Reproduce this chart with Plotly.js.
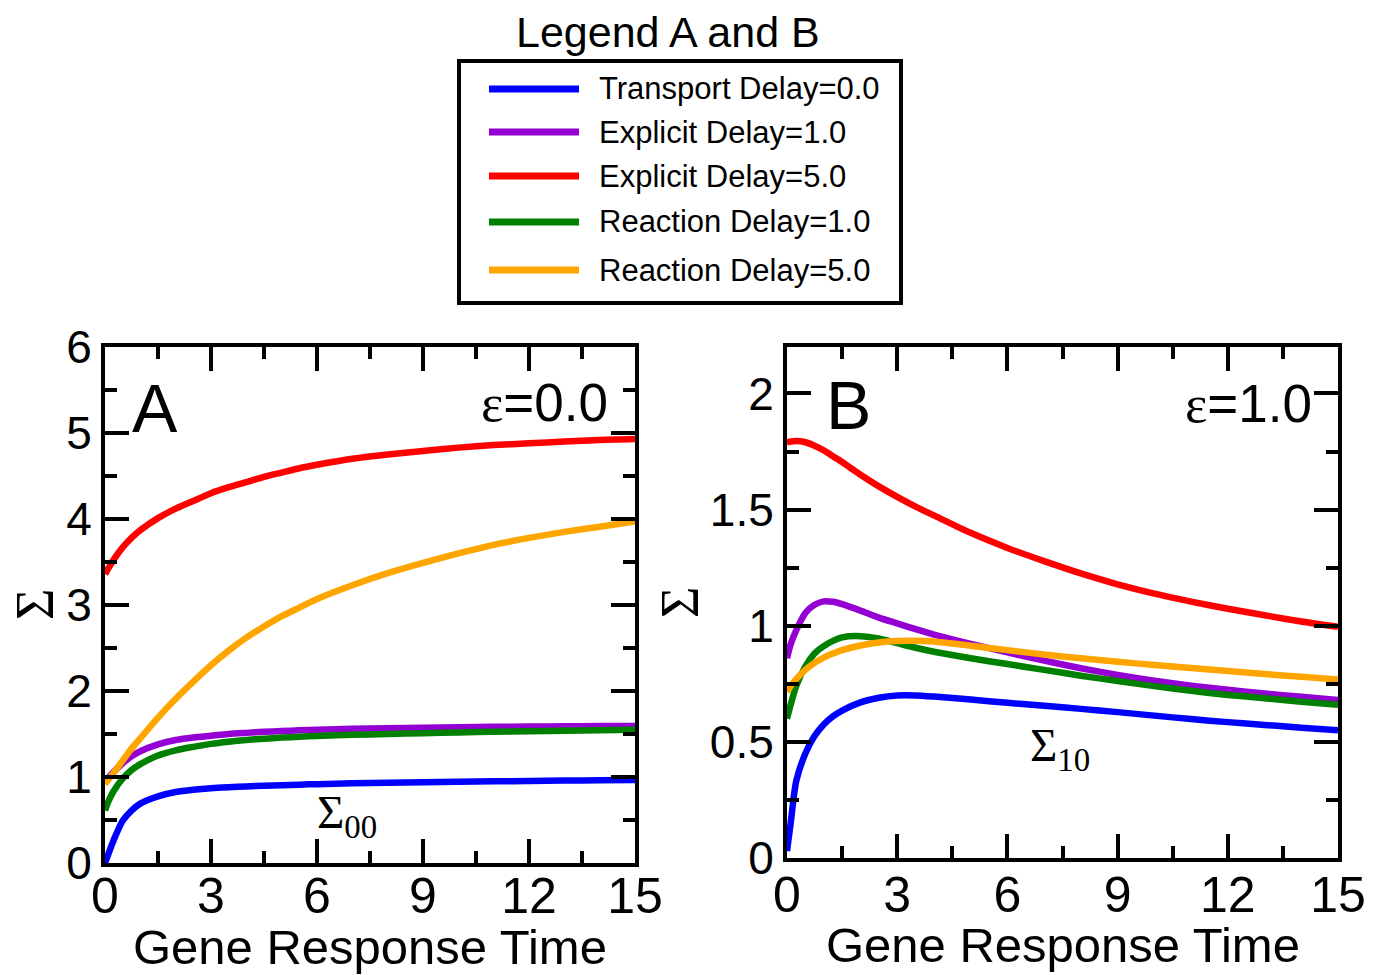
<!DOCTYPE html>
<html>
<head>
<meta charset="utf-8">
<script src="https://cdn.plot.ly/plotly-3.0.1.min.js"></script>
<style>html,body{margin:0;padding:0;background:#fff;}#chart{width:1375px;height:975px;}</style>
</head>
<body>
<div id="chart"></div>
<script>
// ---------- data ----------
const seriesNames = ["Transport Delay=0.0", "Explicit Delay=1.0", "Explicit Delay=5.0", "Reaction Delay=1.0", "Reaction Delay=5.0"];
const seriesColors = ["#0000ff", "#9400d3", "#ff0000", "#008000", "#ffa500"];

// Panel A (epsilon = 0.0)
const xA = [0, 0.1, 0.25, 0.5, 0.75, 1, 1.5, 2, 2.5, 3, 3.5, 4, 4.5, 5, 5.5, 6, 7, 8, 9, 10, 11, 12, 13, 14, 15];
const transportA = [0.0, 0.11, 0.27, 0.49, 0.61, 0.69, 0.775, 0.825, 0.852, 0.87, 0.881, 0.89, 0.898, 0.905, 0.911, 0.917, 0.926, 0.933, 0.939, 0.945, 0.95, 0.954, 0.958, 0.962, 0.965];
const explicit1A = [0.93, 0.99, 1.06, 1.16, 1.24, 1.30, 1.38, 1.43, 1.46, 1.48, 1.50, 1.513, 1.525, 1.535, 1.543, 1.55, 1.56, 1.568, 1.574, 1.579, 1.583, 1.587, 1.59, 1.592, 1.594];
const explicit5A = [3.36, 3.43, 3.53, 3.67, 3.78, 3.87, 4.01, 4.12, 4.21, 4.30, 4.37, 4.43, 4.49, 4.54, 4.59, 4.63, 4.70, 4.75, 4.79, 4.83, 4.86, 4.88, 4.90, 4.92, 4.93];
const reaction1A = [0.61, 0.72, 0.84, 0.98, 1.08, 1.15, 1.25, 1.31, 1.35, 1.385, 1.41, 1.43, 1.445, 1.458, 1.468, 1.477, 1.49, 1.50, 1.51, 1.518, 1.526, 1.533, 1.539, 1.545, 1.55];
const reaction5A = [0.92, 0.97, 1.05, 1.19, 1.33, 1.45, 1.69, 1.91, 2.11, 2.30, 2.47, 2.62, 2.75, 2.87, 2.97, 3.07, 3.23, 3.37, 3.49, 3.60, 3.70, 3.78, 3.85, 3.91, 3.97];

// Panel B (epsilon = 1.0)
const xB = [0, 0.1, 0.25, 0.5, 0.75, 1, 1.25, 1.5, 2, 2.5, 3, 3.5, 4, 5, 6, 7, 8, 9, 10, 11, 12, 13, 14, 15];
const transportB = [0.03, 0.15, 0.33, 0.45, 0.525, 0.575, 0.61, 0.635, 0.67, 0.69, 0.70, 0.70, 0.695, 0.682, 0.668, 0.655, 0.642, 0.628, 0.613, 0.598, 0.585, 0.573, 0.561, 0.55];
const explicit1B = [0.86, 0.92, 0.98, 1.055, 1.09, 1.105, 1.103, 1.093, 1.065, 1.035, 1.01, 0.985, 0.962, 0.922, 0.885, 0.85, 0.817, 0.788, 0.763, 0.742, 0.724, 0.708, 0.694, 0.68];
const explicit5B = [1.79, 1.793, 1.795, 1.79, 1.775, 1.755, 1.73, 1.705, 1.65, 1.60, 1.555, 1.513, 1.475, 1.40, 1.335, 1.278, 1.225, 1.178, 1.138, 1.104, 1.073, 1.045, 1.018, 0.995];
const reaction1B = [0.60, 0.66, 0.74, 0.825, 0.88, 0.912, 0.935, 0.95, 0.955, 0.945, 0.925, 0.905, 0.888, 0.86, 0.835, 0.81, 0.785, 0.762, 0.74, 0.72, 0.702, 0.688, 0.673, 0.66];
const reaction5B = [0.715, 0.74, 0.77, 0.81, 0.84, 0.863, 0.88, 0.895, 0.915, 0.928, 0.934, 0.935, 0.932, 0.914, 0.895, 0.876, 0.86, 0.845, 0.831, 0.818, 0.805, 0.792, 0.78, 0.768];

const xTickValsLabels = [0, 3, 6, 9, 12, 15];
const panelLabels = ["A", "B"];
const epsLabels = ["0.0", "1.0"];
const sigmaSubs = ["00", "10"];
const legendTitle = "Legend A and B";
const xTitle = "Gene Response Time";
const yTitle = "Σ";

// ---------- build ----------
const W = 1375, H = 975;
const seriesA = [transportA, explicit1A, explicit5A, reaction1A, reaction5A];
const seriesB = [transportB, explicit1B, explicit5B, reaction1B, reaction5B];
const traces = [];
seriesA.forEach((ys, i) => traces.push({
  x: xA, y: ys, xaxis: 'x', yaxis: 'y', type: 'scatter', mode: 'lines',
  name: seriesNames[i], showlegend: false,
  line: {color: seriesColors[i], width: 6.5, shape: 'spline', smoothing: 0.7}
}));
seriesB.forEach((ys, i) => traces.push({
  x: xB, y: ys, xaxis: 'x2', yaxis: 'y2', type: 'scatter', mode: 'lines',
  name: seriesNames[i], showlegend: false,
  line: {color: seriesColors[i], width: 6.5, shape: 'spline', smoothing: 0.7}
}));

const SANS = 'Liberation Sans, Arial, sans-serif';
const SERIF = 'Liberation Serif, Times New Roman, serif';

function xax(domain, anchor, standoff) {
  return {
    domain: domain, anchor: anchor, range: [0, 15], tickmode: 'array', tickvals: xTickValsLabels,
    ticktext: xTickValsLabels.map(String),
    ticks: 'inside', ticklen: 24, tickwidth: 4, tickcolor: '#000',
    minor: {dtick: 1.5, tick0: 0, ticks: 'inside', ticklen: 12, tickwidth: 4, tickcolor: '#000'},
    showline: true, linewidth: 4, linecolor: '#000', mirror: 'allticks',
    showgrid: false, zeroline: false, ticklabelstandoff: standoff,
    tickfont: {family: SANS, size: 50, color: '#000'}
  };
}
function yax(domain, anchor, range, dtick, minor) {
  return {
    domain: domain, anchor: anchor, range: range, dtick: dtick, tick0: 0,
    ticks: 'inside', ticklen: 24, tickwidth: 4, tickcolor: '#000',
    minor: {dtick: minor, tick0: 0, ticks: 'inside', ticklen: 12, tickwidth: 4, tickcolor: '#000'},
    showline: true, linewidth: 4, linecolor: '#000', mirror: 'allticks',
    showgrid: false, zeroline: false,
    tickfont: {family: SANS, size: 46, color: '#000'}
  };
}

const annotations = [
  {xref: 'paper', yref: 'paper', x: 668 / W, y: 1 - 32 / H, text: legendTitle, showarrow: false,
   font: {family: SANS, size: 43, color: '#000'}, xanchor: 'center', yanchor: 'middle'},
  // axis titles
  {xref: 'paper', yref: 'paper', x: 370 / W, y: 1 - 947 / H, text: xTitle, showarrow: false,
   font: {family: SANS, size: 49, color: '#000'}, xanchor: 'center', yanchor: 'middle'},
  {xref: 'paper', yref: 'paper', x: 1063 / W, y: 1 - 945 / H, text: xTitle, showarrow: false,
   font: {family: SANS, size: 49, color: '#000'}, xanchor: 'center', yanchor: 'middle'},
  {xref: 'paper', yref: 'paper', x: 35 / W, y: 1 - 605 / H, text: yTitle, showarrow: false, textangle: -90,
   font: {family: SERIF, size: 54, color: '#000'}, xanchor: 'center', yanchor: 'middle'},
  {xref: 'paper', yref: 'paper', x: 680 / W, y: 1 - 603 / H, text: yTitle, showarrow: false, textangle: -90,
   font: {family: SERIF, size: 54, color: '#000'}, xanchor: 'center', yanchor: 'middle'},
  // panel labels
  {xref: 'x', yref: 'y', x: 0.7, y: 5.29, text: panelLabels[0], showarrow: false, xanchor: 'left', yanchor: 'middle',
   font: {family: SANS, size: 68, color: '#000'}},
  {xref: 'x2', yref: 'y2', x: 1.0, y: 1.95, text: panelLabels[1], showarrow: false, xanchor: 'left', yanchor: 'middle',
   font: {family: SANS, size: 68, color: '#000'}},
  {xref: 'x', yref: 'y', x: 14.3, y: 5.36, text: '<span style="font-family:Liberation Serif">ε</span>=' + epsLabels[0], showarrow: false,
   xanchor: 'right', yanchor: 'middle', font: {family: SANS, size: 53, color: '#000'}},
  {xref: 'x2', yref: 'y2', x: 14.35, y: 1.957, text: '<span style="font-family:Liberation Serif">ε</span>=' + epsLabels[1], showarrow: false,
   xanchor: 'right', yanchor: 'middle', font: {family: SANS, size: 53, color: '#000'}},
  {xref: 'x', yref: 'y', x: 6.85, y: 0.55, text: 'Σ<sub>' + sigmaSubs[0] + '</sub>', showarrow: false,
   xanchor: 'center', yanchor: 'middle', font: {family: SERIF, size: 47, color: '#000'}},
  {xref: 'x2', yref: 'y2', x: 7.43, y: 0.47, text: 'Σ<sub>' + sigmaSubs[1] + '</sub>', showarrow: false,
   xanchor: 'center', yanchor: 'middle', font: {family: SERIF, size: 47, color: '#000'}}
];

// legend drawn as shapes + text (positions in pixels -> paper)
const legendRowY = [89, 132, 176, 222, 270];
const shapes = [{type: 'rect', xref: 'paper', yref: 'paper', x0: 459 / W, x1: 901 / W, y0: 1 - 303 / H, y1: 1 - 61 / H,
  line: {color: '#000', width: 4}, fillcolor: 'rgba(0,0,0,0)'}];
seriesNames.forEach((nm, i) => {
  shapes.push({type: 'line', xref: 'paper', yref: 'paper', x0: 489 / W, x1: 579 / W,
    y0: 1 - legendRowY[i] / H, y1: 1 - legendRowY[i] / H, line: {color: seriesColors[i], width: 7}});
  annotations.push({xref: 'paper', yref: 'paper', x: 597 / W, y: 1 - legendRowY[i] / H, text: nm, showarrow: false,
    xanchor: 'left', yanchor: 'middle', font: {family: SANS, size: 31, color: '#000'}});
});

const layout = {
  width: W, height: H,
  margin: {l: 0, r: 0, t: 0, b: 0, pad: 0},
  paper_bgcolor: '#fff', plot_bgcolor: '#fff',
  font: {family: SANS, color: '#000'},
  showlegend: false,
  xaxis: xax([105 / W, 635 / W], 'y', -14),
  yaxis: yax([1 - 863 / H, 1 - 347 / H], 'x', [0, 6], 1, 0.5),
  xaxis2: xax([787 / W, 1338 / W], 'y2', -10),
  yaxis2: yax([1 - 858 / H, 1 - 347 / H], 'x2', [0, 2.2], 0.5, 0.25),
  annotations: annotations,
  shapes: shapes
};

Plotly.newPlot('chart', traces, layout, {displayModeBar: false, staticPlot: true});
</script>
</body>
</html>
